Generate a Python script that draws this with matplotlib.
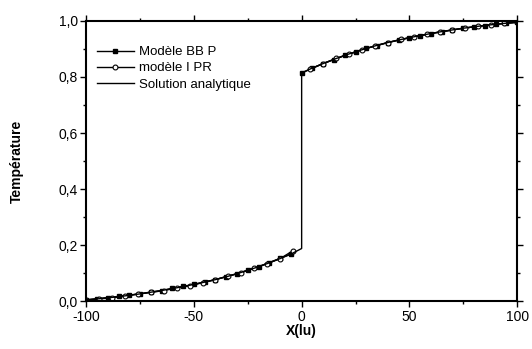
import numpy as np
import matplotlib.pyplot as plt
from matplotlib.ticker import MultipleLocator, FuncFormatter

plt.rcParams['font.family'] = ['Liberation Sans', 'DejaVu Sans']
plt.rcParams['axes.unicode_minus'] = False

# analytic solution, jump at x = 0
x_ana = [-100, -95, -90, -85, -80, -75, -70, -65, -60, -55, -50, -45, -40, -35, -30,
         -25, -20, -15, -10, -5, 0, 0, 5, 10, 15, 20, 25, 30, 35, 40, 45, 50, 55, 60,
         65, 70, 75, 80, 85, 90, 95, 100]
t_ana = [0.005, 0.008, 0.012, 0.016, 0.021, 0.026, 0.032, 0.038, 0.045, 0.052, 0.060,
         0.068, 0.077, 0.087, 0.098, 0.110, 0.123, 0.137, 0.152, 0.168, 0.188, 0.815,
         0.832, 0.848, 0.863, 0.877, 0.890, 0.902, 0.913, 0.923, 0.932, 0.940, 0.948,
         0.955, 0.962, 0.968, 0.974, 0.979, 0.984, 0.988, 0.992, 0.995]

# Modele BB P (filled squares), left and right of the jump
x_bbp_l = [-100, -95, -90, -85, -80, -75, -70, -65, -60, -55, -50, -45, -40, -35, -30,
           -25, -20, -15, -10, -5]
t_bbp_l = [0.005, 0.009, 0.013, 0.017, 0.022, 0.026, 0.033, 0.038, 0.046, 0.053, 0.060,
           0.069, 0.077, 0.088, 0.098, 0.111, 0.123, 0.138, 0.153, 0.168]
x_bbp_r = [0, 5, 10, 15, 20, 25, 30, 35, 40, 45, 50, 55, 60, 65, 70, 75, 80, 85, 90,
           95, 100]
t_bbp_r = [0.814, 0.831, 0.848, 0.862, 0.877, 0.889, 0.902, 0.912, 0.923, 0.931, 0.940,
           0.947, 0.955, 0.961, 0.968, 0.974, 0.979, 0.983, 0.988, 0.992, 0.995]

# modele I PR (open circles), left and right of the jump
x_ipr_l = [-100, -94, -88, -82, -76, -70, -64, -58, -52, -46, -40, -34, -28, -22, -16,
           -10, -4]
t_ipr_l = [0.004, 0.008, 0.012, 0.018, 0.026, 0.031, 0.038, 0.047, 0.055, 0.066, 0.077,
           0.090, 0.102, 0.118, 0.134, 0.152, 0.180]
x_ipr_r = [4, 10, 16, 22, 28, 34, 40, 46, 52, 58, 64, 70, 76, 82, 88, 94, 100]
t_ipr_r = [0.829, 0.848, 0.866, 0.882, 0.897, 0.911, 0.923, 0.934, 0.944, 0.952, 0.961,
           0.968, 0.975, 0.981, 0.987, 0.991, 0.996]

fig = plt.figure(figsize=(5.32, 3.49), dpi=100)
ax = fig.add_axes([0.162, 0.137, 0.81, 0.803])

ax.plot(x_bbp_l + [np.nan] + x_bbp_r, t_bbp_l + [np.nan] + t_bbp_r,
        color='black', lw=1.0, marker='s', ms=3.0, mfc='black', mec='black',
        label='Modèle BB P')
ax.plot(x_ipr_l + [np.nan] + x_ipr_r, t_ipr_l + [np.nan] + t_ipr_r,
        color='black', lw=1.0, marker='o', ms=3.5, mfc='white', mec='black',
        mew=0.8, label='modèle I PR')
ax.plot(x_ana, t_ana, color='black', lw=1.0, label='Solution analytique')

ax.set_xlim(-100, 100)
ax.set_ylim(0, 1.0)
ax.xaxis.set_major_locator(MultipleLocator(50))
ax.xaxis.set_minor_locator(MultipleLocator(25))
ax.yaxis.set_major_locator(MultipleLocator(0.2))
ax.yaxis.set_minor_locator(MultipleLocator(0.1))
ax.yaxis.set_major_formatter(FuncFormatter(lambda v, p: f'{v:.1f}'.replace('.', ',')))

for s in ax.spines.values():
    s.set_linewidth(1.5)
ax.tick_params(which='both', direction='out', width=1.0, labelsize=10,
               top=True, right=True, pad=2)
ax.tick_params(which='major', length=4)
ax.tick_params(which='minor', length=2.5)

ax.set_xlabel('X(lu)', fontsize=10, fontweight='bold', labelpad=0)
ax.set_ylabel('Température', fontsize=10, fontweight='bold', labelpad=25)

ax.legend(loc='upper left', bbox_to_anchor=(0.0, 0.948), frameon=False,
          fontsize=9.5, handlelength=2.8, handletextpad=0.4, labelspacing=0.3,
          borderaxespad=0.4)

fig.savefig('out.png', dpi=100)
